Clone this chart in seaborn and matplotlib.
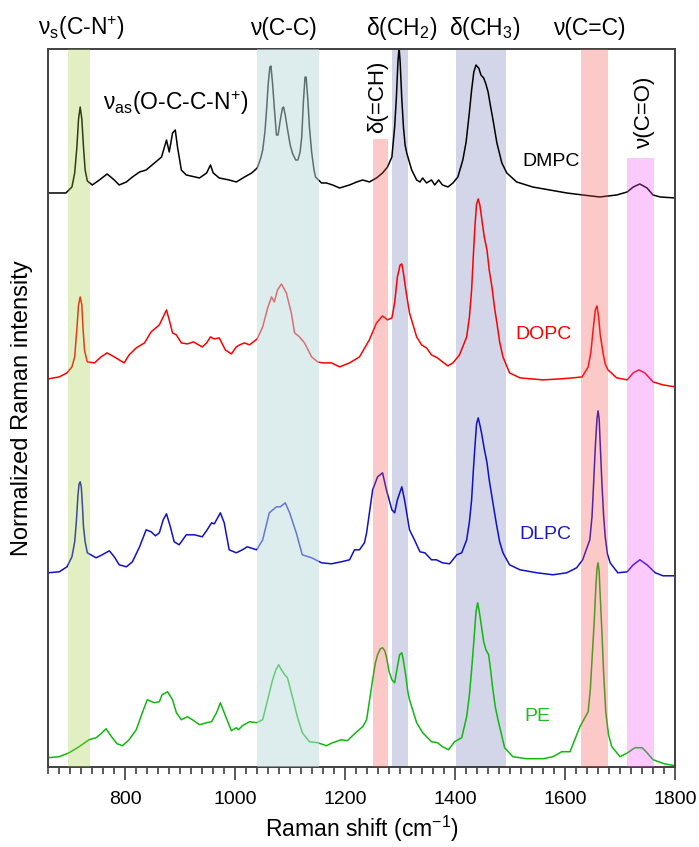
import matplotlib
matplotlib.use("Agg")
import matplotlib.pyplot as plt
import seaborn as sns
from matplotlib.ticker import MultipleLocator
import matplotlib.transforms as mtransforms

# Spectra (x = Raman shift in cm-1, y = offset intensity, arb. units)
dmpc_x = [660, 692, 703, 708, 712, 715, 718, 721, 724, 727,
          731, 740, 753, 767, 780, 789, 802, 813, 826, 838,
          853, 866, 875, 880, 886, 891, 895, 902, 911, 935,
          948, 955, 960, 971, 989, 1002, 1017, 1030, 1040, 1046,
          1050, 1054, 1057, 1060, 1063, 1065, 1068, 1071, 1075, 1078,
          1082, 1086, 1088, 1091, 1095, 1100, 1104, 1110, 1114, 1118,
          1121, 1124, 1127, 1129, 1132, 1135, 1139, 1143, 1146, 1157,
          1166, 1177, 1190, 1208, 1221, 1232, 1244, 1257, 1268, 1277,
          1285, 1290, 1293, 1296, 1298, 1300, 1303, 1306, 1309, 1312,
          1321, 1330, 1336, 1341, 1348, 1357, 1363, 1370, 1377, 1387,
          1396, 1405, 1414, 1420, 1426, 1430, 1434, 1438, 1441, 1443,
          1447, 1452, 1456, 1460, 1464, 1468, 1472, 1476, 1485, 1494,
          1512, 1541, 1572, 1603, 1632, 1663, 1694, 1713, 1724, 1736,
          1749, 1760, 1773, 1800]
dmpc_y = [574, 574, 580, 594, 620, 648, 660, 648, 620, 597,
          586, 582, 587, 593, 587, 582, 585, 590, 595, 597,
          604, 610, 627, 615, 634, 637, 620, 597, 592, 589,
          594, 602, 594, 589, 587, 585, 590, 594, 599, 608,
          617, 635, 657, 683, 700, 701, 683, 660, 632, 632,
          647, 659, 660, 652, 638, 622, 614, 607, 607, 615,
          630, 665, 690, 690, 668, 640, 615, 598, 590, 584,
          584, 582, 579, 582, 585, 587, 585, 589, 594, 600,
          610, 640, 668, 705, 720, 705, 668, 640, 622, 614,
          597, 587, 585, 589, 584, 587, 582, 587, 582, 580,
          584, 590, 607, 625, 655, 677, 695, 702, 700, 699,
          692, 689, 683, 675, 662, 650, 637, 624, 604, 594,
          585, 580, 577, 574, 572, 570, 572, 575, 580, 583,
          579, 572, 570, 569]

dopc_x = [660, 680, 694, 703, 708, 712, 715, 718, 721, 723,
          726, 731, 744, 756, 767, 780, 798, 807, 820, 835,
          847, 862, 869, 875, 880, 886, 893, 902, 913, 924,
          940, 948, 955, 962, 971, 982, 993, 1002, 1008, 1017,
          1026, 1040, 1050, 1059, 1066, 1071, 1077, 1084, 1093, 1102,
          1108, 1117, 1126, 1139, 1150, 1159, 1175, 1190, 1208, 1226,
          1244, 1257, 1268, 1277, 1285, 1290, 1295, 1300, 1303, 1306,
          1310, 1317, 1330, 1339, 1348, 1357, 1368, 1377, 1387, 1396,
          1408, 1421, 1426, 1430, 1433, 1436, 1439, 1442, 1445, 1448,
          1453, 1458, 1462, 1467, 1472, 1476, 1481, 1487, 1499, 1518,
          1560, 1591, 1614, 1631, 1642, 1647, 1651, 1655, 1658, 1661,
          1664, 1669, 1673, 1678, 1694, 1713, 1724, 1734, 1745, 1760,
          1778, 1800]
dopc_y = [388, 390, 394, 400, 410, 438, 462, 470, 462, 440,
          416, 405, 404, 410, 414, 410, 404, 412, 419, 424,
          435, 442, 450, 457, 447, 434, 432, 424, 423, 425,
          420, 424, 430, 428, 429, 417, 413, 420, 422, 424,
          422, 428, 440, 459, 470, 465, 477, 483, 474, 454,
          434, 430, 424, 410, 405, 404, 404, 400, 404, 410,
          427, 444, 451, 447, 449, 464, 490, 502, 503, 494,
          478, 454, 430, 422, 419, 412, 409, 405, 401, 404,
          412, 430, 450, 477, 510, 540, 563, 568, 562, 550,
          530, 517, 497, 480, 458, 444, 425, 410, 394, 389,
          387, 388, 389, 390, 400, 415, 437, 457, 461, 450,
          432, 414, 403, 397, 389, 387, 394, 397, 394, 385,
          382, 380]

dlpc_x = [660, 680, 694, 703, 708, 711, 714, 716, 718, 720,
          722, 724, 727, 731, 747, 758, 771, 780, 789, 802,
          813, 826, 838, 847, 855, 862, 869, 875, 882, 889,
          898, 911, 926, 940, 949, 957, 962, 973, 980, 989,
          1002, 1013, 1022, 1039, 1050, 1062, 1075, 1082, 1091, 1099,
          1111, 1122, 1139, 1157, 1175, 1193, 1208, 1217, 1226, 1235,
          1239, 1250, 1259, 1268, 1275, 1285, 1290, 1295, 1303, 1308,
          1317, 1326, 1336, 1345, 1357, 1366, 1377, 1390, 1403, 1412,
          1421, 1426, 1430, 1433, 1436, 1439, 1442, 1445, 1448, 1453,
          1458, 1462, 1467, 1472, 1476, 1481, 1487, 1499, 1518, 1549,
          1578, 1603, 1621, 1632, 1645, 1649, 1652, 1655, 1658, 1660,
          1662, 1664, 1667, 1670, 1673, 1677, 1682, 1696, 1713, 1724,
          1736, 1749, 1764, 1778, 1800]
dlpc_y = [194, 195, 200, 210, 225, 245, 272, 283, 285, 280,
          262, 240, 225, 214, 209, 212, 216, 210, 202, 200,
          205, 220, 237, 235, 231, 234, 247, 253, 240, 225,
          222, 232, 232, 230, 237, 244, 243, 254, 244, 217,
          214, 217, 220, 217, 227, 254, 260, 260, 264, 254,
          234, 212, 209, 204, 203, 205, 207, 217, 217, 224,
          234, 277, 290, 294, 277, 257, 254, 267, 280, 267,
          237, 227, 215, 214, 207, 207, 204, 203, 212, 214,
          227, 245, 267, 295, 320, 343, 349, 342, 334, 318,
          304, 287, 270, 253, 240, 225, 214, 202, 197, 194,
          192, 194, 199, 207, 227, 250, 284, 320, 348, 356,
          348, 322, 284, 252, 230, 213, 204, 194, 195, 202,
          207, 202, 194, 191, 191]

pe_x = [660, 680, 698, 716, 734, 747, 756, 765, 775, 785,
        795, 807, 820, 831, 840, 853, 862, 867, 877, 886,
        893, 902, 913, 922, 935, 948, 957, 966, 973, 980,
        993, 1002, 1006, 1013, 1026, 1039, 1050, 1059, 1068, 1074,
        1079, 1084, 1090, 1095, 1104, 1113, 1122, 1135, 1150, 1166,
        1177, 1193, 1204, 1221, 1232, 1239, 1250, 1255, 1259, 1264,
        1268, 1272, 1275, 1280, 1285, 1290, 1295, 1299, 1303, 1306,
        1310, 1314, 1317, 1330, 1341, 1357, 1368, 1377, 1388, 1399,
        1412, 1421, 1426, 1430, 1434, 1438, 1441, 1444, 1448, 1452,
        1456, 1461, 1465, 1468, 1473, 1478, 1490, 1505, 1530, 1560,
        1578, 1594, 1609, 1627, 1642, 1646, 1649, 1653, 1656, 1658,
        1660, 1662, 1664, 1667, 1670, 1674, 1679, 1685, 1700, 1714,
        1727, 1740, 1749, 1760, 1780, 1800]
pe_y = [9, 10, 14, 20, 27, 29, 33, 38, 30, 23,
        21, 27, 37, 54, 67, 64, 65, 72, 75, 67,
        54, 47, 50, 47, 42, 44, 45, 54, 64, 54,
        36, 39, 37, 41, 45, 44, 47, 67, 87, 97,
        102, 97, 92, 89, 70, 50, 34, 25, 24, 21,
        24, 27, 26, 35, 40, 47, 87, 104, 112, 118,
        119, 116, 110, 95, 87, 84, 100, 112, 114, 106,
        92, 75, 67, 44, 34, 25, 24, 20, 17, 25,
        29, 50, 72, 97, 125, 155, 164, 155, 140, 125,
        117, 112, 95, 80, 60, 47, 19, 10, 8, 8,
        10, 15, 15, 40, 55, 78, 107, 145, 180, 198,
        204, 195, 170, 135, 95, 55, 32, 20, 10, 14,
        19, 19, 14, 7, 3, 1]

# shaded assignment bands: (start, end, top intensity or None for full height)
band_cn = (696, 736, None)
band_cc = (1040, 1152, None)
band_ch = (1250, 1277, 628)
band_ch2 = (1286, 1314, None)
band_ch3 = (1402, 1492, None)
band_c_c = (1629, 1678, None)
band_co = (1713, 1761, 609)

sns.set_style("white")
plt.rcParams['font.family'] = ['Liberation Sans', 'DejaVu Sans']
plt.rcParams['mathtext.fontset'] = 'custom'
plt.rcParams['mathtext.rm'] = 'Liberation Sans'
plt.rcParams['mathtext.it'] = 'Liberation Sans:italic'
plt.rcParams['mathtext.bf'] = 'Liberation Sans:bold'
plt.rcParams['text.color'] = 'black'
plt.rcParams['axes.labelcolor'] = 'black'
plt.rcParams['xtick.labelcolor'] = 'black'

fig = plt.figure(figsize=(6.99, 8.47), dpi=100)
ax = fig.add_axes([0.0691, 0.0948, 0.8966, 0.8473])
YTOP = 718
ax.set_xlim(660, 1800)
ax.set_ylim(0, YTOP)

def band(b, color, alpha, z):
    x0, x1, top = b
    ymax = 1.0 if top is None else top / YTOP
    ax.axvspan(x0, x1, ymin=0, ymax=ymax, color=color, alpha=alpha, lw=0, zorder=z)

# lavender bands sit below the traces, the others are translucent overlays
band(band_ch2, '#d3d5e8', 1.0, 0)
band(band_ch3, '#d3d5e8', 1.0, 0)
band(band_cn, '#a2cc3a', 0.3, 3)
band(band_cc, '#bddcdf', 0.5, 3)
band(band_ch, '#f84c4c', 0.3, 3)
band(band_c_c, '#f84c4c', 0.3, 3)
band(band_co, '#f84cf8', 0.3, 3)

lw = 1.1
sns.lineplot(x=dmpc_x, y=dmpc_y, color='black', lw=lw, sort=False, estimator=None, ax=ax, zorder=2)
sns.lineplot(x=dopc_x, y=dopc_y, color='#ff0000', lw=lw, sort=False, estimator=None, ax=ax, zorder=2)
sns.lineplot(x=dlpc_x, y=dlpc_y, color='#1010c8', lw=lw, sort=False, estimator=None, ax=ax, zorder=2)
sns.lineplot(x=pe_x, y=pe_y, color='#10b810', lw=lw, sort=False, estimator=None, ax=ax, zorder=2)

# axes styling
for s in ax.spines.values():
    s.set_color('#404040')
    s.set_linewidth(1.4)
ax.set_yticks([])
ax.xaxis.set_major_locator(MultipleLocator(200))
ax.xaxis.set_minor_locator(MultipleLocator(20))
ax.tick_params(axis='x', which='major', direction='out', length=9.5, width=1.2,
               color='#404040', labelsize=14, pad=8, bottom=True)
ax.tick_params(axis='x', which='minor', direction='out', length=5, width=1.2,
               color='#404040', bottom=True)
ax.set_xlabel('Raman shift (cm$^{-1}$)', fontsize=16.5, labelpad=4)
ax.set_ylabel('Normalized Raman intensity', fontsize=17, labelpad=11)

# band assignments above the frame
top = mtransforms.blended_transform_factory(ax.transData, ax.transAxes)
tkw = dict(fontsize=16.5, ha='center', va='center', transform=top, clip_on=False)
ax.text(720, 1.029, r'ν$_\mathrm{s}$(C-N$^{+}$)', **tkw)
ax.text(1088, 1.029, 'ν(C-C)', **tkw)
ax.text(1303, 1.029, r'δ(CH$_2$)', **tkw)
ax.text(1454, 1.029, r'δ(CH$_3$)', **tkw)
ax.text(1645, 1.029, 'ν(C=C)', **tkw)

ax.text(891, 664, r'ν$_\mathrm{as}$(O-C-C-N$^{+}$)', fontsize=16.5, ha='center', va='center', zorder=5)
ax.text(1259, 670, 'δ(=CH)', fontsize=16, rotation=90, ha='center', va='center', zorder=5)
ax.text(1745, 655, 'ν(C=O)', fontsize=16, rotation=90, ha='center', va='center', zorder=5)

ax.text(1574, 605, 'DMPC', fontsize=14, color='black', ha='center', va='center', zorder=5)
ax.text(1561, 432, 'DOPC', fontsize=14, color='#ff0000', ha='center', va='center', zorder=5)
ax.text(1565, 232, 'DLPC', fontsize=14, color='#1a1ac0', ha='center', va='center', zorder=5)
ax.text(1550, 50, 'PE', fontsize=14, color='#22bb22', ha='center', va='center', zorder=5)

fig.savefig('out.png', dpi=100)
